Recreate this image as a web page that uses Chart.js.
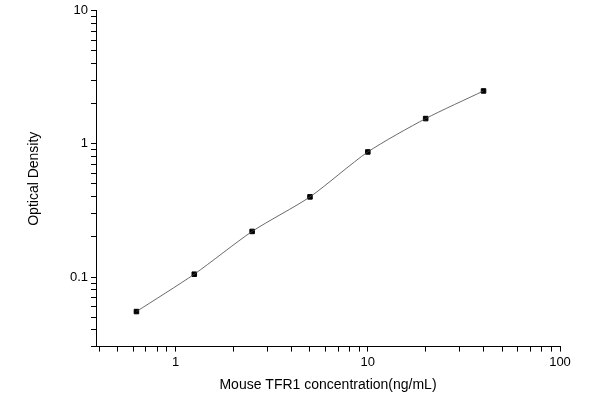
<!DOCTYPE html>
<html><head><script src="https://cdn.jsdelivr.net/npm/chart.js@4"></script>
<style>body{margin:0;background:#fff}#w{width:600px;height:400px}</style></head>
<body><div id="w"><canvas id="c"></canvas></div>
<script>
const concentrations=[0.625,1.25,2.5,5,10,20,40];
const densities=[0.055,0.105,0.22,0.40,0.87,1.55,2.5];
const xTicks=[0.4,0.5,0.6,0.7,0.8,0.9,1,2,3,4,5,6,7,8,9,10,20,30,40,50,60,70,80,90,100];
const yTicks=[0.03,0.04,0.05,0.06,0.07,0.08,0.09,0.1,0.2,0.3,0.4,0.5,0.6,0.7,0.8,0.9,1,2,3,4,5,6,7,8,9,10];
const majors=[0.1,1,10,100];
const pts=concentrations.map((x,i)=>({x,y:densities[i]}));
const font={family:'Arial, "Liberation Sans"',size:13};
new Chart(document.getElementById('c'),{type:'scatter',
data:{datasets:[
{data:pts,showLine:true,borderColor:'#444',borderWidth:0.8,pointRadius:0,tension:0.25},
{data:pts,showLine:false,pointStyle:'rect',pointRadius:3.2,backgroundColor:'#000',borderColor:'#000'}]},
options:{responsive:true,maintainAspectRatio:false,animation:false,
layout:{padding:{top:0,right:40,left:22,bottom:2}},
plugins:{legend:{display:false},tooltip:{enabled:false}},
scales:{
x:{type:'logarithmic',min:0.385,max:100,border:{color:'#000',width:1},
grid:{drawOnChartArea:false,color:'#000',tickLength:5},
afterBuildTicks:a=>{a.ticks=xTicks.map(v=>({value:v}))},
ticks:{autoSkip:false,maxRotation:0,color:'#000',font,callback:v=>majors.includes(v)?String(v):''},
title:{display:true,text:'Mouse TFR1 concentration(ng/mL)',color:'#000',font:{...font,size:14}}},
y:{type:'logarithmic',min:0.03,max:10,border:{color:'#000',width:1},
grid:{drawOnChartArea:false,color:'#000',tickLength:5},
afterBuildTicks:a=>{a.ticks=yTicks.map(v=>({value:v}))},
afterFit:a=>{a.width=74},
ticks:{autoSkip:false,color:'#000',font,callback:v=>majors.includes(v)?String(v):''},
title:{display:true,text:'Optical Density',color:'#000',font:{...font,size:14}}}}}});
</script></body></html>
